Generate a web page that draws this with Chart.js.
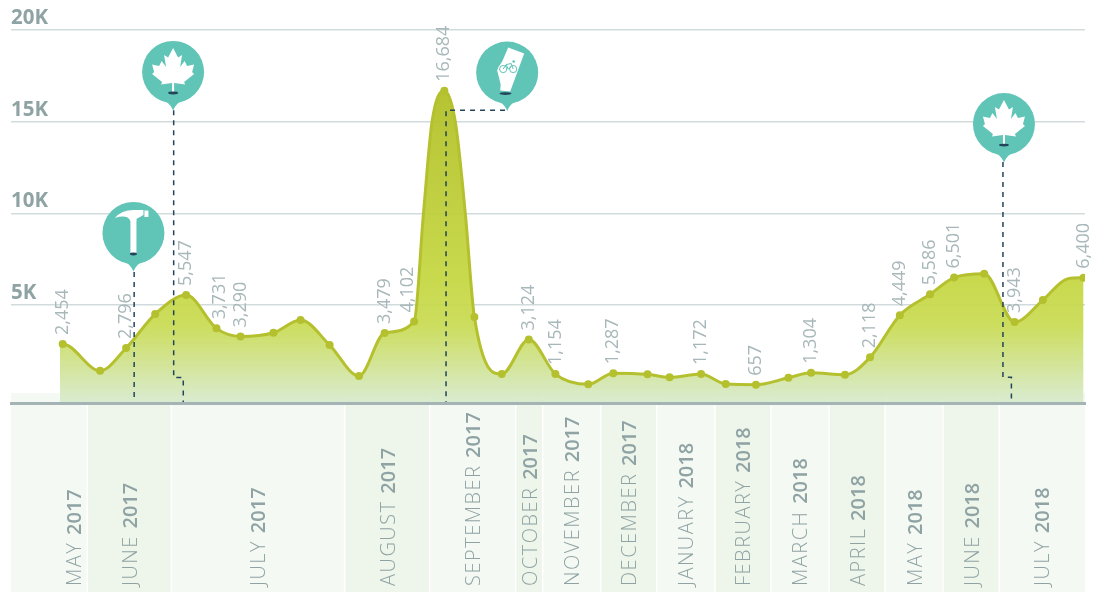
<!DOCTYPE html>
<html>
<head>
<meta charset="utf-8">
<style>
html, body { margin: 0; padding: 0; background: #fff; }
#wrap { width: 1102px; height: 592px; position: relative; overflow: hidden; }
</style>
<script src="https://cdn.jsdelivr.net/npm/chart.js@4/dist/chart.umd.min.js"></script>
</head>
<body>
<div id="wrap"><canvas id="chart" width="1102" height="592"></canvas></div>
<script>
// x is in weeks-ish units along the (uneven) time axis
const xWeeks = [3.42, 3.61, 6.22, 8.04, 10.07, 12.23, 14.35, 16.03, 18.33, 20.22, 22.25, 24.30, 26.09, 28.15, 28.80, 29.40, 30.26, 31.03, 31.73, 32.36, 34.27, 36.16, 38.02, 40.31, 42.06, 44.45, 45.99, 48.19, 49.91, 52.02, 54.29, 55.87, 58.24, 59.99, 62.07, 64.18, 65.86, 67.96, 70.08, 72.06, 73.81, 74.90];
const visits = [2874, 2874, 1418, 2656, 4510, 5547, 3731, 3290, 3490, 4183, 2819, 1129, 3479, 4102, 9963, 14980, 16684, 14980, 9963, 4346, 1238, 3124, 1238, 676, 1287, 1222, 1058, 1238, 693, 657, 1036, 1304, 1200, 2149, 4449, 5586, 6501, 6707, 4073, 5273, 6440, 6489];
const valueLabels = [null, '2,454', null, '2,796', null, '5,547', '3,731', '3,290', null, null, null, null, '3,479', '4,102', null, null, '16,684', null, null, null, null, '3,124', '1,154', null, '1,287', null, null, '1,172', null, '657', null, '1,304', null, '2,118', '4,449', '5,586', '6,501', null, '3,943', null, null, '6,400'];
// points on the curve that have no dot in the picture
const unmarked = [0, 14, 15, 17, 18, 40];

const months = ['MAY', 'JUNE', 'JULY', 'AUGUST', 'SEPTEMBER', 'OCTOBER', 'NOVEMBER', 'DECEMBER', 'JANUARY', 'FEBRUARY', 'MARCH', 'APRIL', 'MAY', 'JUNE', 'JULY'];
const years = ['2017', '2017', '2017', '2017', '2017', '2017', '2017', '2017', '2018', '2018', '2018', '2018', '2018', '2018', '2018'];
const monthEdges = [0, 5.38, 11.25, 23.35, 29.29, 35.30, 37.18, 41.24, 45.15, 49.21, 53.12, 57.18, 61.09, 65.14, 69.06, 75];

const yTicks = [5000, 10000, 15000, 20000];
const yMin = -340;

// events: pin centre (x, value) and the dashed leader down to the axis
const pinIcons = ['hammer', 'maple', 'bike', 'maple'];
const pinX = [8.55, 11.32, 34.65, 69.34];
const pinY = [8930, 17710, 17680, 14870];
const leaderX = [
    [8.60, 8.60],
    [11.36, 11.36, 12.03, 12.03],
    [34.50, 30.38, 30.38],
    [69.27, 69.27, 69.86, 69.86]
];
const leaderY = [
    [6800, yMin],
    [15630, 1050, 1050, yMin],
    [15630, 15630, yMin],
    [12800, 1070, 1070, yMin]
];

const OLIVE = '#b5c02e';
const TEAL = '#60c4b7';
const NAVY = '#24445a';
const LABEL = '#a8b7b9';
const TICK = '#8fa3a4';

function poly(ctx, pts) {
    ctx.beginPath();
    pts.forEach((p, i) => i ? ctx.lineTo(p[0], p[1]) : ctx.moveTo(p[0], p[1]));
    ctx.closePath();
    ctx.fill();
}

function shadow(ctx, x, rx) {
    ctx.fillStyle = NAVY;
    ctx.beginPath();
    ctx.ellipse(x, 21, rx, 1.4, 0, 0, Math.PI * 2);
    ctx.fill();
}

const icons = {
    maple(ctx) {
        const half = [[0, -24], [5, -14.5], [9, -17], [7, -5], [11.5, -11], [14, -6], [21, -7.5], [19, 0], [21, 2], [11, 10], [12, 12.5], [1, 11], [1, 20]];
        const left = half.slice(1).reverse().map(p => [-p[0], p[1]]);
        ctx.fillStyle = '#fff';
        poly(ctx, half.concat(left));
        shadow(ctx, 0, 5);
    },
    hammer(ctx) {
        ctx.fillStyle = '#fff';
        ctx.fillRect(-3, -13, 6, 33);
        ctx.beginPath();
        ctx.moveTo(-18.5, -15);
        ctx.quadraticCurveTo(-12, -23, 0, -23);
        ctx.lineTo(10, -23);
        ctx.lineTo(10, -18);
        ctx.lineTo(3, -14);
        ctx.lineTo(3, -12);
        ctx.lineTo(-3, -12);
        ctx.quadraticCurveTo(-6, -19, -18.5, -15);
        ctx.fill();
        ctx.fillRect(11, -22.5, 4, 6.5);
        shadow(ctx, 0, 3.5);
    },
    bike(ctx) {
        ctx.fillStyle = '#fff';
        poly(ctx, [[1, -25], [17, -19], [3, 19], [-7, 18], [-6.5, 12], [-10, -2], [-9, -5], [-5, -11]]);
        ctx.strokeStyle = TEAL;
        ctx.lineWidth = 1;
        ctx.beginPath();
        ctx.arc(-4, -3.5, 3.6, 0, Math.PI * 2);
        ctx.moveTo(9.6, -3.5);
        ctx.arc(6, -3.5, 3.6, 0, Math.PI * 2);
        ctx.moveTo(-4, -3.5);
        ctx.lineTo(-1, -8);
        ctx.lineTo(4, -9);
        ctx.lineTo(6, -3.5);
        ctx.moveTo(-1, -8);
        ctx.lineTo(1, -3.5);
        ctx.lineTo(4, -6);
        ctx.stroke();
        ctx.fillStyle = TEAL;
        ctx.beginPath();
        ctx.arc(6.5, -11, 1.3, 0, Math.PI * 2);
        ctx.fill();
        shadow(ctx, -1.7, 6);
    }
};

const backdrop = {
    id: 'backdrop',
    beforeDatasetsDraw(chart) {
        const { ctx, scales: { x, y } } = chart;
        const top = y.bottom - 10;
        ctx.save();
        months.forEach((m, i) => {
            const a = x.getPixelForValue(monthEdges[i]);
            const b = x.getPixelForValue(monthEdges[i + 1]);
            ctx.fillStyle = i % 2 ? '#eef5ea' : '#f5f9f3';
            ctx.fillRect(a, top, b - a - (i < months.length - 1 ? 1.5 : 0), chart.height - top);
        });
        ctx.restore();
    }
};

const overlay = {
    id: 'overlay',
    afterDatasetsDraw(chart) {
        const { ctx, scales: { x, y } } = chart;
        const points = chart.getDatasetMeta(0).data;
        ctx.save();

        // value labels, rotated, sitting just above their point
        ctx.font = '400 18px "Open Sans"';
        ctx.fillStyle = LABEL;
        ctx.textBaseline = 'middle';
        ctx.textAlign = 'left';
        valueLabels.forEach((txt, i) => {
            if (!txt) return;
            const nudge = txt === '4,102' ? -6 : txt === '3,731' ? 3 : 0;
            ctx.save();
            ctx.translate(points[i].x + nudge, points[i].y - 9);
            ctx.rotate(-Math.PI / 2);
            ctx.fillText(txt, 0, 0);
            ctx.restore();
        });

        // month names under the axis
        months.forEach((m, i) => {
            const from = Math.max(monthEdges[i], xWeeks[0]);
            const cx = (x.getPixelForValue(from) + x.getPixelForValue(monthEdges[i + 1])) / 2;
            ctx.save();
            ctx.translate(cx + 1, 586);
            ctx.rotate(-Math.PI / 2);
            ctx.fillStyle = TICK;
            ctx.font = '300 20px "Open Sans"';
            ctx.letterSpacing = '1.5px';
            ctx.fillText(m + ' ', 0, 0);
            const w = ctx.measureText(m + ' ').width;
            ctx.letterSpacing = '0px';
            ctx.font = '600 20px "Open Sans"';
            ctx.fillText(years[i], w, 0);
            ctx.restore();
        });

        // event pins
        pinIcons.forEach((icon, i) => {
            ctx.save();
            ctx.translate(x.getPixelForValue(pinX[i]), y.getPixelForValue(pinY[i]));
            ctx.fillStyle = TEAL;
            ctx.beginPath();
            ctx.arc(0, 0, 31, 0, Math.PI * 2);
            ctx.fill();
            ctx.beginPath();
            ctx.moveTo(-9, 29);
            ctx.quadraticCurveTo(-3, 31, 0, 38.5);
            ctx.quadraticCurveTo(3, 31, 9, 29);
            ctx.closePath();
            ctx.fill();
            icons[icon](ctx);
            ctx.restore();
        });
        ctx.restore();
    }
};

const areaFill = ctx => {
    const { chart } = ctx;
    const area = chart.chartArea;
    if (!area) return null;
    const y = chart.scales.y;
    const g = chart.ctx.createLinearGradient(0, y.getPixelForValue(16684), 0, area.bottom);
    g.addColorStop(0, 'rgba(178,192,40,0.95)');
    g.addColorStop(0.6, 'rgba(196,214,62,0.92)');
    g.addColorStop(0.75, 'rgba(200,218,80,0.92)');
    g.addColorStop(1, 'rgba(216,235,208,0.95)');
    return g;
};

const leaderSets = leaderX.map((xs, i) => ({
    data: xs.map((v, k) => ({ x: v, y: leaderY[i][k] })),
    borderColor: NAVY,
    borderWidth: 1.5,
    borderDash: [5, 5],
    pointRadius: 0,
    tension: 0,
    fill: false,
    clip: false
}));

new Chart(document.getElementById('chart'), {
    type: 'line',
    data: {
        datasets: [{
            data: xWeeks.map((v, i) => ({ x: v, y: visits[i] })),
            borderColor: OLIVE,
            borderWidth: 3,
            cubicInterpolationMode: 'monotone',
            pointBackgroundColor: OLIVE,
            pointBorderWidth: 0,
            pointRadius: c => unmarked.includes(c.dataIndex) ? 0 : 4,
            fill: 'start',
            backgroundColor: areaFill,
            order: 2
        }, ...leaderSets.map(s => ({ ...s, order: 1 }))]
    },
    plugins: [backdrop, overlay],
    options: {
        responsive: false,
        animation: false,
        layout: { padding: { left: 11, right: 17, top: 30, bottom: 189 } },
        plugins: { legend: { display: false }, tooltip: { enabled: false } },
        scales: {
            x: {
                type: 'linear',
                min: monthEdges[0],
                max: monthEdges[monthEdges.length - 1],
                ticks: { display: false },
                grid: { display: false, drawTicks: false },
                border: { color: '#a4b3b3', width: 3, z: 1 }
            },
            y: {
                min: yMin,
                max: 20000,
                afterBuildTicks: axis => { axis.ticks = yTicks.map(value => ({ value })); },
                ticks: {
                    mirror: true,
                    padding: 0,
                    labelOffset: -12,
                    color: TICK,
                    font: { family: '"Open Sans"', size: 20.5, weight: '700' },
                    callback: v => (v / 1000) + 'K'
                },
                grid: { color: '#d2dbdb', lineWidth: 1.5, drawTicks: false },
                border: { display: false }
            }
        }
    }
});
</script>
</body>
</html>
